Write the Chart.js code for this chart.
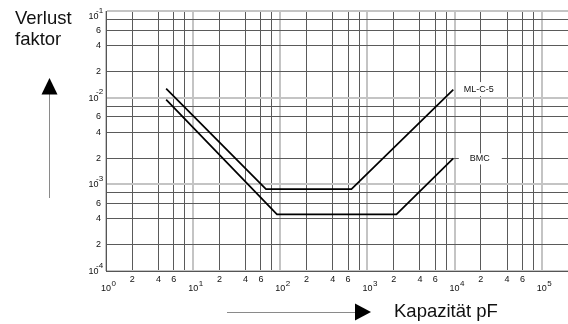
<!DOCTYPE html>
<html>
<head>
<meta charset="utf-8">
<script src="https://cdn.jsdelivr.net/npm/chart.js@4/dist/chart.umd.min.js"></script>
<style>
  html, body { margin: 0; padding: 0; background: #fff; }
  #wrap { position: relative; width: 568px; height: 324px; }
  canvas { display: block; }
</style>
</head>
<body>
<div id="wrap"><canvas id="c" width="568" height="324"></canvas></div>
<script>
// Verlustfaktor (tan δ) über der Kapazität, doppelt logarithmisch
const seriesNames = ['ML-C-5', 'BMC'];

const capacitanceMLC5 = [4.9, 68.5, 655, 9660];        // pF
const lossMLC5        = [0.0127, 0.00088, 0.00088, 0.0124];

const capacitanceBMC  = [4.9, 91.6, 2150, 9660];       // pF
const lossBMC         = [0.0095, 0.00045, 0.00045, 0.00199];

const xTickValues = [1, 2, 4, 6, 8,
                     10, 20, 40, 60, 80,
                     100, 200, 400, 600, 800,
                     1000, 2000, 4000, 6000, 8000,
                     10000, 20000, 40000, 60000, 80000,
                     100000];
const xTickLabels = ['10^0', '2', '4', '6', '',
                     '10^1', '2', '4', '6', '',
                     '10^2', '2', '4', '6', '',
                     '10^3', '2', '4', '6', '',
                     '10^4', '2', '4', '6', '',
                     '10^5'];

const yTickValues = [0.0001, 0.0002, 0.0004, 0.0006, 0.0008,
                     0.001, 0.002, 0.004, 0.006, 0.008,
                     0.01, 0.02, 0.04, 0.06, 0.08,
                     0.1];
const yTickLabels = ['10^-4', '2', '4', '6', '',
                     '10^-3', '2', '4', '6', '',
                     '10^-2', '2', '4', '6', '',
                     '10^-1'];

const xMin = 1, xMax = 200000;
const yMin = 0.0001, yMax = 0.1;

const FONT = '"Liberation Sans", Arial, sans-serif';

function toPoints(xs, ys) { return xs.map((x, i) => ({ x: x, y: ys[i] })); }
function isDecade(v) {
  const l = Math.log10(v);
  return Math.abs(l - Math.round(l)) < 1e-9;
}
function gridColor(ctx) { return isDecade(ctx.tick.value) ? '#c4c4c4' : '#5a5a5a'; }
function gridWidth(ctx) { return isDecade(ctx.tick.value) ? 2 : 1; }

// "10^k" wird als 10 mit hochgestelltem Exponenten gesetzt
function drawPower(ctx, label, x, y, align) {
  const parts = label.split('^');
  ctx.font = '9px ' + FONT;
  ctx.textBaseline = 'middle';
  const w = ctx.measureText(parts[0]).width;
  let left = align === 'right' ? x - w : x - w / 2;
  ctx.textAlign = 'left';
  ctx.fillText(parts[0], left, y);
  ctx.font = '8px ' + FONT;
  return { left: left, right: left + w, exp: parts[1] };
}

const tickLabelPlugin = {
  id: 'tickLabels',
  afterDraw(chart) {
    const ctx = chart.ctx;
    const xs = chart.scales.x, ys = chart.scales.y;
    ctx.save();
    ctx.fillStyle = '#111';
    // x-Achse
    xTickValues.forEach((v, i) => {
      const lab = xTickLabels[i];
      if (!lab) return;
      const px = xs.getPixelForValue(v);
      if (lab.indexOf('^') >= 0) {
        const r = drawPower(ctx, lab, px, 288.5, 'center');
        ctx.textAlign = 'left';
        ctx.fillText(r.exp, r.right + 0.5, 284);
      } else {
        ctx.font = '9px ' + FONT;
        ctx.textAlign = 'center';
        ctx.textBaseline = 'middle';
        ctx.fillText(lab, px, 279.5);
      }
    });
    // y-Achse
    yTickValues.forEach((v, i) => {
      const lab = yTickLabels[i];
      if (!lab) return;
      const py = ys.getPixelForValue(v);
      if (lab.indexOf('^') >= 0) {
        const cy = Math.max(py + 0.5, 17);
        const r = drawPower(ctx, lab, 98.5, cy, 'right');
        ctx.textAlign = 'left';
        ctx.fillText(r.exp, r.right - 2.5, cy - 6);
      } else {
        ctx.font = '9px ' + FONT;
        ctx.textAlign = 'right';
        ctx.textBaseline = 'middle';
        ctx.fillText(lab, 101, py);
      }
    });
    ctx.restore();
  }
};

// Kurvenbeschriftung am Ende jeder Kennlinie, mit weißem Hintergrund
const curveLabelPlugin = {
  id: 'curveLabels',
  afterDatasetsDraw(chart, args, opts) {
    const ctx = chart.ctx;
    const xs = chart.scales.x, ys = chart.scales.y;
    ctx.save();
    ctx.font = '9px ' + FONT;
    ctx.textBaseline = 'middle';
    ctx.textAlign = 'left';
    chart.data.datasets.forEach((ds, i) => {
      const o = opts.offsets[i];
      const last = ds.data[ds.data.length - 1];
      const px = xs.getPixelForValue(last.x) + o.dx;
      const py = ys.getPixelForValue(last.y) + o.dy;
      const w = ctx.measureText(ds.label).width;
      ctx.fillStyle = '#fff';
      ctx.fillRect(px - o.padL, py - o.padV, w + o.padL + o.padR, 2 * o.padV);
      ctx.fillStyle = '#111';
      ctx.fillText(ds.label, px, py);
    });
    ctx.restore();
  }
};

// Achsentitel und Pfeile
const decorPlugin = {
  id: 'decor',
  afterDraw(chart) {
    const ctx = chart.ctx;
    ctx.save();
    ctx.fillStyle = '#111';
    ctx.font = '18.5px ' + FONT;
    ctx.textAlign = 'left';
    ctx.textBaseline = 'alphabetic';
    ctx.fillText('Verlust', 15, 24);
    ctx.fillText('faktor', 15, 45);
    ctx.fillText('Kapazität pF', 394, 316.5);

    ctx.strokeStyle = '#8a8a8a';
    ctx.lineWidth = 1;
    ctx.beginPath();
    ctx.moveTo(49.5, 94); ctx.lineTo(49.5, 198);
    ctx.moveTo(227, 312.5); ctx.lineTo(356, 312.5);
    ctx.stroke();

    ctx.fillStyle = '#000';
    ctx.beginPath();
    ctx.moveTo(49.5, 78); ctx.lineTo(57.5, 94.5); ctx.lineTo(41.5, 94.5);
    ctx.closePath(); ctx.fill();
    ctx.beginPath();
    ctx.moveTo(371, 312); ctx.lineTo(355, 303.5); ctx.lineTo(355, 320.5);
    ctx.closePath(); ctx.fill();
    ctx.restore();
  }
};

function fixTicks(values) {
  return function (scale) { scale.ticks = values.map(v => ({ value: v })); };
}

new Chart(document.getElementById('c'), {
  type: 'line',
  data: {
    datasets: [
      { label: seriesNames[0], data: toPoints(capacitanceMLC5, lossMLC5) },
      { label: seriesNames[1], data: toPoints(capacitanceBMC, lossBMC) }
    ]
  },
  options: {
    responsive: false,
    animation: false,
    events: [],
    layout: { padding: { left: 106, top: 11, right: 0, bottom: 53 } },
    elements: {
      line: { borderColor: '#000', borderWidth: 1.7, tension: 0, fill: false },
      point: { radius: 0 }
    },
    scales: {
      x: {
        type: 'logarithmic',
        min: xMin, max: xMax,
        afterBuildTicks: fixTicks(xTickValues),
        ticks: { display: false },
        grid: { color: gridColor, lineWidth: gridWidth, drawTicks: false },
        border: { display: true, color: '#555', width: 1 }
      },
      y: {
        type: 'logarithmic',
        min: yMin, max: yMax,
        afterBuildTicks: fixTicks(yTickValues),
        ticks: { display: false },
        grid: { color: gridColor, lineWidth: gridWidth, drawTicks: false },
        border: { display: true, color: '#555', width: 1 }
      }
    },
    plugins: {
      legend: { display: false },
      tooltip: { enabled: false },
      curveLabels: {
        offsets: [
          { dx: 10.5, dy: -0.5, padL: 3, padR: 3, padV: 7 },
          { dx: 16.5, dy: 0.5, padL: 11, padR: 12, padV: 5.5 }
        ]
      }
    }
  },
  plugins: [tickLabelPlugin, curveLabelPlugin, decorPlugin]
});
</script>
</body>
</html>
